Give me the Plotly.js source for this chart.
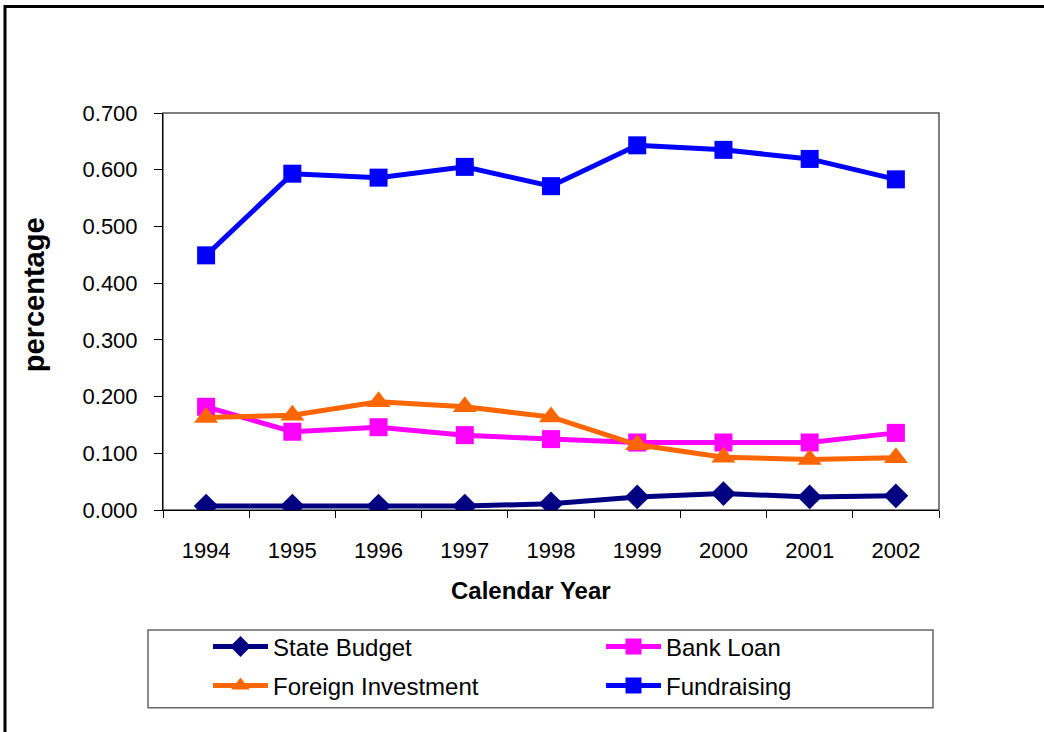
<!DOCTYPE html>
<html>
<head>
<meta charset="utf-8">
<script src="https://cdn.plot.ly/plotly-3.0.1.min.js"></script>
<style>
html,body{margin:0;padding:0;background:#fff;}
#chart{width:1044px;height:732px;}
</style>
</head>
<body>
<div id="chart"></div>
<script>
var years = ["1994","1995","1996","1997","1998","1999","2000","2001","2002"];
var stateBudget = [0.007,0.007,0.007,0.007,0.011,0.023,0.029,0.023,0.025];
var bankLoan = [0.182,0.138,0.146,0.132,0.125,0.119,0.119,0.119,0.136];
var foreignInvestment = [0.163,0.167,0.191,0.182,0.164,0.115,0.093,0.089,0.092];
var fundraising = [0.449,0.593,0.586,0.605,0.571,0.643,0.635,0.619,0.583];
var yTicks = [0,0.1,0.2,0.3,0.4,0.5,0.6,0.7];
var xTitle = "Calendar Year";
var yTitle = "percentage";

var W = 1044, H = 732;
var L = 163, R = 939, T = 112.7, B = 510;
var pw = R - L, ph = B - T;
function px(x){ return (x - L) / pw; }
function py(y){ return (B - y) / ph; }

var FONT = "Liberation Sans, Arial, sans-serif";

var traces = [
  {x: years, y: stateBudget, name: "State Budget", type: "scatter", mode: "lines+markers",
   line: {color: "#000080", width: 5}, marker: {symbol: "diamond", size: 19, color: "#000080"}, legend: "legend"},
  {x: years, y: bankLoan, name: "Bank Loan", type: "scatter", mode: "lines+markers",
   line: {color: "#FF00FF", width: 5}, marker: {symbol: "square", size: 18, color: "#FF00FF"}, legend: "legend2"},
  {x: years, y: foreignInvestment, name: "Foreign Investment", type: "scatter", mode: "lines+markers",
   line: {color: "#FF6600", width: 5}, marker: {symbol: "triangle-up", size: 21, color: "#FF6600"}, legend: "legend3"},
  {x: years, y: fundraising, name: "Fundraising", type: "scatter", mode: "lines+markers",
   line: {color: "#0000FF", width: 5}, marker: {symbol: "square", size: 18, color: "#0000FF"}, legend: "legend4"}
];

function leg(xpx, ypx){
  return {x: px(xpx), y: py(ypx), xanchor: "left", yanchor: "middle",
          bgcolor: "rgba(0,0,0,0)", borderwidth: 0, itemwidth: 55,
          font: {family: FONT, size: 24, color: "#000"}};
}

var layout = {
  width: W, height: H,
  margin: {l: L, r: W - R, t: T, b: H - B, pad: 0},
  paper_bgcolor: "#fff", plot_bgcolor: "#fff",
  font: {family: FONT, color: "#000"},
  showlegend: true,
  xaxis: {
    type: "category", range: [-0.5, 8.5], autorange: false,
    tickson: "boundaries", ticks: "outside", ticklen: 7, tickwidth: 1, tickcolor: "#000",
    showline: true, linecolor: "#000", linewidth: 1, showgrid: false, zeroline: false,
    tickfont: {family: FONT, size: 22, color: "#000"}, ticklabelstandoff: 21
  },
  yaxis: {
    range: [0, 0.7], autorange: false, tickvals: yTicks, tickformat: ".3f", ticks: "outside", ticklen: 8, tickwidth: 1, tickcolor: "#000",
    showline: true, linecolor: "#000", linewidth: 1, showgrid: false, zeroline: false,
    tickfont: {family: FONT, size: 22, color: "#000"}, ticklabelstandoff: 12
  },
  annotations: [
    {text: "<b>" + xTitle + "</b>", xref: "paper", yref: "paper", x: px(531), y: py(591),
     xanchor: "center", yanchor: "middle", showarrow: false,
     font: {family: FONT, size: 24, color: "#000"}},
    {text: "<b>" + yTitle + "</b>", xref: "paper", yref: "paper", x: px(34), y: py(295),
     xanchor: "center", yanchor: "middle", showarrow: false, textangle: -90,
     font: {family: FONT, size: 29, color: "#000"}}
  ],
  legend: leg(208, 647),
  legend2: leg(601, 647),
  legend3: leg(208, 686),
  legend4: leg(601, 686),
  shapes: [
    {type: "rect", xref: "paper", yref: "paper", x0: 0, x1: 1, y0: 0, y1: 1,
     line: {color: "#555", width: 1.5}, layer: "below"},
    {type: "rect", xref: "paper", yref: "paper", x0: px(148), x1: px(933), y0: py(708), y1: py(630),
     line: {color: "#666", width: 1.5}, fillcolor: "rgba(0,0,0,0)"},
    {type: "rect", xref: "paper", yref: "paper", x0: px(5), x1: px(1100), y0: py(800), y1: py(6),
     line: {color: "#000", width: 3}, fillcolor: "rgba(0,0,0,0)"}
  ]
};

Plotly.newPlot("chart", traces, layout, {displayModeBar: false, staticPlot: true});
</script>
</body>
</html>
